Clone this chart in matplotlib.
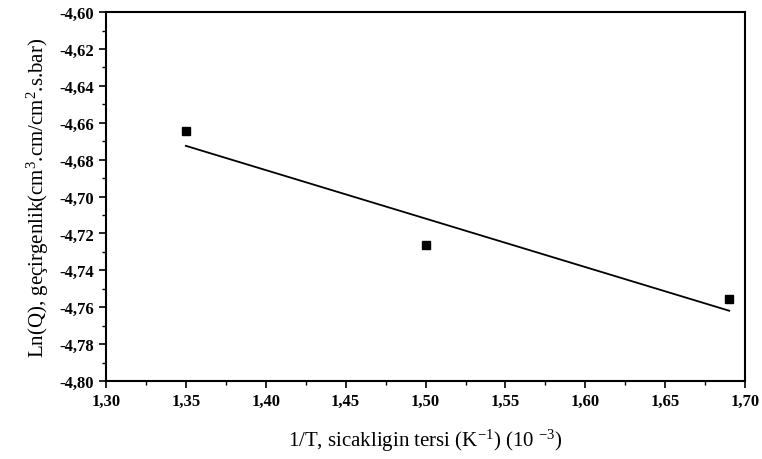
import numpy as np
import matplotlib
matplotlib.use("Agg")
import matplotlib.pyplot as plt
from matplotlib.ticker import MultipleLocator, FuncFormatter

x_vals = [1.35, 1.50, 1.69]
y_vals = [-4.6645, -4.7263, -4.7556]

plt.rcParams['font.family'] = ['Liberation Serif', 'DejaVu Serif']
plt.rcParams['mathtext.fontset'] = 'custom'
plt.rcParams['mathtext.rm'] = 'Liberation Serif'
plt.rcParams['mathtext.it'] = 'Liberation Serif:italic'
plt.rcParams['mathtext.bf'] = 'Liberation Serif:bold'
plt.rcParams['mathtext.default'] = 'rm'

fig = plt.figure(figsize=(7.62, 4.60), dpi=100)
ax = fig.add_axes([0.139, 0.1696, 0.839, 0.802])

ax.plot(x_vals, y_vals, 's', color='black', markersize=6)
coef = np.polyfit(x_vals, y_vals, 1)
xf = np.array([x_vals[0], x_vals[-1]])
ax.plot(xf, np.polyval(coef, xf), color='black', linewidth=1.3)

ax.set_xlim(1.30, 1.70)
ax.set_ylim(-4.80, -4.60)
ax.xaxis.set_major_locator(MultipleLocator(0.05))
ax.xaxis.set_minor_locator(MultipleLocator(0.025))
ax.yaxis.set_major_locator(MultipleLocator(0.02))
ax.yaxis.set_minor_locator(MultipleLocator(0.01))
fmt = FuncFormatter(lambda v, p: f"{v:.2f}".replace('.', ','))
ax.xaxis.set_major_formatter(fmt)
ax.yaxis.set_major_formatter(fmt)
ax.tick_params(which='major', direction='out', length=5, width=1.2, labelsize=12)
ax.tick_params(which='minor', direction='out', length=3, width=1.0)
for s in ax.spines.values():
    s.set_linewidth(1.5)
for lab in ax.get_xticklabels() + ax.get_yticklabels():
    lab.set_fontweight('bold')

ax.set_xlabel("1/T, sicakligin tersi (K$^{-1}$) (10 $^{-3}$)", fontsize=15, labelpad=13)
ax.set_ylabel("Ln(Q), geçirgenlik(cm$^{3}$.cm/cm$^{2}$.s.bar)", fontsize=15, labelpad=6)

fig.savefig("out.png", dpi=100)
